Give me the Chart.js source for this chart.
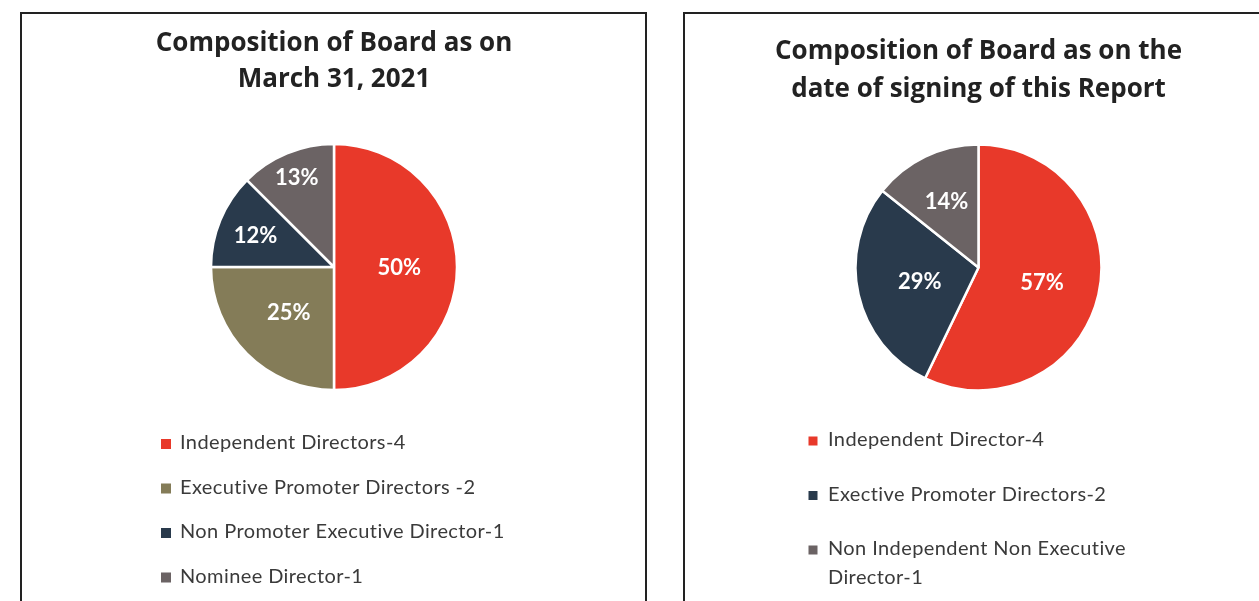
<!DOCTYPE html>
<html>
<head>
<meta charset="utf-8">
<script src="https://cdn.jsdelivr.net/npm/chart.js@4/dist/chart.umd.min.js"></script>
<style>
  html, body { margin: 0; padding: 0; background: #fff; width: 1259px; height: 601px; overflow: hidden; }
  canvas { position: absolute; }
  .frame { position: absolute; border: 2px solid #222; border-bottom: none; box-sizing: border-box; pointer-events: none; }
</style>
</head>
<body>
<canvas id="c1" style="left:22px;top:14px;width:624px;height:587px" width="624" height="587"></canvas>
<canvas id="c2" style="left:686px;top:14px;width:585px;height:587px" width="585" height="587"></canvas>
<div class="frame" style="left:20px;top:12px;width:627px;height:700px"></div>
<div class="frame" style="left:683px;top:12px;width:700px;height:700px"></div>
<script>
// ---- data ----
const title1 = ['Composition of Board as on', 'March 31, 2021'];
const categories1 = ['Independent Directors-4', 'Executive Promoter Directors -2', 'Non Promoter Executive Director-1', 'Nominee Director-1'];
const values1 = [4, 2, 1, 1];
const pctLabels1 = ['50%', '25%', '12%', '13%'];

const title2 = ['Composition of Board as on the', 'date of signing of this Report'];
const categories2 = ['Independent Director-4', 'Exective Promoter Directors-2', ['Non Independent Non Executive', 'Director-1']];
const values2 = [4, 2, 1];
const pctLabels2 = ['57%', '29%', '14%'];

const colors1 = ['#E8392A', '#847C58', '#293A4C', '#6B6364'];
const colors2 = ['#E8392A', '#293A4C', '#6B6364'];

// ---- plugins ----
const sliceLabels = {
  id: 'sliceLabels',
  afterDatasetsDraw(chart, args, opts) {
    const ctx = chart.ctx;
    const meta = chart.getDatasetMeta(0);
    ctx.save();
    ctx.fillStyle = opts.color;
    ctx.font = opts.font;
    ctx.textAlign = 'center';
    ctx.textBaseline = 'middle';
    meta.data.forEach((arc, i) => {
      const p = arc.getProps(['x', 'y', 'startAngle', 'endAngle', 'outerRadius'], true);
      const mid = (p.startAngle + p.endAngle) / 2;
      const r = p.outerRadius * opts.radial[i];
      ctx.fillText(opts.texts[i], p.x + Math.cos(mid) * r, p.y + Math.sin(mid) * r + 1);
    });
    ctx.restore();
  }
};

const listLegend = {
  id: 'listLegend',
  afterDraw(chart, args, opts) {
    const ctx = chart.ctx;
    const area = chart.chartArea;
    const labels = chart.data.labels;
    const bg = chart.data.datasets[0].backgroundColor;
    ctx.save();
    ctx.font = opts.font;
    if ('letterSpacing' in ctx) ctx.letterSpacing = opts.spacing;
    ctx.textBaseline = 'middle';
    ctx.textAlign = 'left';
    labels.forEach((lab, i) => {
      const y = area.bottom + opts.offsetY + i * opts.gap;
      ctx.fillStyle = bg[i];
      ctx.fillRect(opts.boxX - opts.box / 2, y - opts.box / 2 + 1, opts.box, opts.box);
      ctx.fillStyle = opts.color;
      const lines = Array.isArray(lab) ? lab : [lab];
      lines.forEach((ln, j) => ctx.fillText(ln, opts.textX, y + j * opts.lineGap));
    });
    ctx.restore();
  }
};

function makePie(id, labels, values, colors, texts, radial, title, titleOpts, legendOpts) {
  return new Chart(document.getElementById(id), {
    type: 'pie',
    data: {
      labels: labels,
      datasets: [{
        data: values,
        backgroundColor: colors,
        borderColor: '#ffffff',
        borderWidth: 2.5
      }]
    },
    options: {
      responsive: false,
      animation: false,
      radius: 123,
      layout: { padding: { top: 0, left: 0, right: 0, bottom: 211 } },
      plugins: {
        legend: { display: false },
        tooltip: { enabled: false },
        title: {
          display: true,
          text: title,
          color: '#222222',
          font: { family: "'Open Sans'", weight: 'bold', size: 26, lineHeight: titleOpts.lh },
          padding: { top: titleOpts.pt, bottom: titleOpts.pb }
        },
        sliceLabels: { texts: texts, radial: radial, color: '#ffffff', font: 'bold 22px Lato' },
        listLegend: legendOpts
      }
    },
    plugins: [sliceLabels, listLegend]
  });
}

makePie('c1', categories1, values1, colors1, pctLabels1, [0.53, 0.52, 0.69, 0.79],
  title1, { lh: 36 / 26, pt: 12, pb: 46 },
  { font: '20px Lato', spacing: '0.4px', color: '#3a3a3a', box: 10, boxX: 144, textX: 158, offsetY: 53, gap: 44.5, lineGap: 29 });

makePie('c2', categories2, values2, colors2, pctLabels2, [0.53, 0.49, 0.6],
  title2, { lh: 38 / 26, pt: 19, pb: 36 },
  { font: '20px Lato', spacing: '0.4px', color: '#3a3a3a', box: 9, boxX: 127, textX: 142, offsetY: 50, gap: 54.5, lineGap: 29 });
</script>
</body>
</html>
